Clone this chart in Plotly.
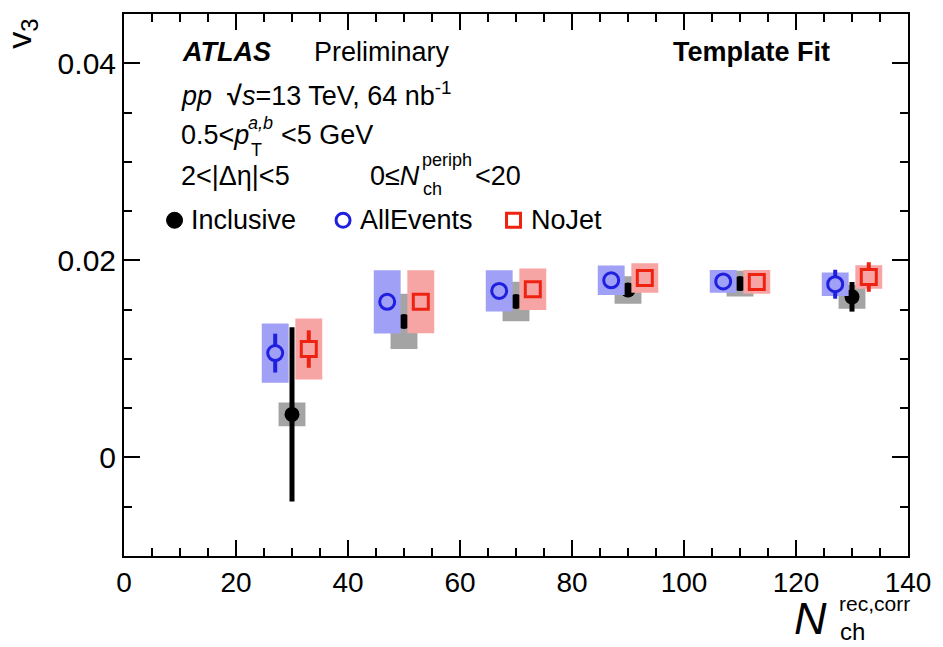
import plotly.graph_objects as go

# ---------------- data ----------------
x_incl = [30, 50, 70, 90, 110, 130]
x_all = [27, 47, 67, 87, 107, 127]
x_nojet = [33, 53, 73, 93, 113, 133]

v3_incl = [0.00437, 0.0138, 0.01582, 0.0170, 0.01764, 0.0163]
stat_incl = [0.00884, 0.0006, 0.0005, 0.0005, 0.0005, 0.0015]
syst_incl = [0.0012, 0.0028, 0.0020, 0.0014, 0.0013, 0.0012]

v3_all = [0.01059, 0.01579, 0.0169, 0.01798, 0.01786, 0.01758]
stat_all = [0.00197, 0.0005, 0.0005, 0.0004, 0.0004, 0.00147]
syst_all = [0.0030, 0.0032, 0.0021, 0.0015, 0.00115, 0.0012]

v3_nojet = [0.0110, 0.0158, 0.01707, 0.01821, 0.01781, 0.01831]
stat_nojet = [0.0019, 0.0005, 0.0005, 0.0004, 0.0004, 0.0015]
syst_nojet = [0.0031, 0.0032, 0.0021, 0.0015, 0.0012, 0.0012]

series_names = ["Inclusive", "AllEvents", "NoJet"]

# ---------------- style ----------------
FONT = "Liberation Sans"
BOX_HALF = 2.4
C_BLACK = "black"
C_BLUE = "#1f1fe0"
C_RED = "#ee2211"
C_GRAYBOX = "#a4a4a4"
C_BLUEBOX = "#a0a0f6"
C_REDBOX = "#f7a4a4"

W, H = 943, 647
ML, MR, MT, MB = 124, 28, 12, 91
PW = W - ML - MR
PH = H - MT - MB


def px(x):
    return (x - ML) / PW


def py(y):
    return (MT + PH - y) / PH


def box_path(xs, ys, ss, hw):
    bx, by = [], []
    for x, y, s in zip(xs, ys, ss):
        bx += [x - hw, x + hw, x + hw, x - hw, x - hw, None]
        by += [y - s, y - s, y + s, y + s, y - s, None]
    return bx, by


def box_trace(xs, ys, ss, color):
    bx, by = box_path(xs, ys, ss, BOX_HALF)
    return go.Scatter(x=bx, y=by, mode="lines", fill="toself", fillcolor=color,
                      line=dict(width=0, color=color), hoverinfo="skip",
                      showlegend=False)


fig = go.Figure()

# Inclusive
fig.add_trace(box_trace(x_incl, v3_incl, syst_incl, C_GRAYBOX))
fig.add_trace(go.Scatter(
    x=x_incl, y=v3_incl, mode="markers", name=series_names[0], showlegend=False,
    marker=dict(symbol="circle", size=15, color=C_BLACK),
    error_y=dict(type="data", array=stat_incl, color=C_BLACK, thickness=5, width=0)))

# AllEvents (marker interior painted with the box colour so the bar does not show inside)
fig.add_trace(box_trace(x_all, v3_all, syst_all, C_BLUEBOX))
fig.add_trace(go.Scatter(
    x=x_all, y=v3_all, mode="markers", name=series_names[1], showlegend=False,
    marker=dict(symbol="circle", size=15, color=C_BLUEBOX, line=dict(width=3, color=C_BLUE)),
    error_y=dict(type="data", array=stat_all, color=C_BLUE, thickness=4, width=0)))

# NoJet
fig.add_trace(box_trace(x_nojet, v3_nojet, syst_nojet, C_REDBOX))
fig.add_trace(go.Scatter(
    x=x_nojet, y=v3_nojet, mode="markers", name=series_names[2], showlegend=False,
    marker=dict(symbol="square", size=15, color=C_REDBOX, line=dict(width=3, color=C_RED)),
    error_y=dict(type="data", array=stat_nojet, color=C_RED, thickness=4, width=0)))

axis_common = dict(
    ticks="inside", ticklen=16, tickwidth=2, tickcolor="black",
    showline=True, linecolor="black", linewidth=2, mirror="ticks",
    showgrid=False, zeroline=False,
)

fig.update_xaxes(range=[0, 140], tick0=0, dtick=20,
                 tickfont=dict(family=FONT, size=28, color="black"),
                 minor=dict(dtick=5, ticklen=8, tickwidth=2, ticks="inside",
                            tickcolor="black", showgrid=False),
                 **axis_common)
fig.update_yaxes(range=[-0.01, 0.045], tick0=0, dtick=0.02,
                 tickfont=dict(family=FONT, size=30, color="black"),
                 minor=dict(dtick=0.005, ticklen=8, tickwidth=2, ticks="inside",
                            tickcolor="black", showgrid=False),
                 **axis_common)


def ann(text, x, y, size, xanchor="left", **kw):
    return dict(text=text, x=px(x), y=py(y), xref="paper", yref="paper",
                xanchor=xanchor, yanchor="middle", showarrow=False,
                font=dict(family=FONT, size=size, color="black"), **kw)


S = 27
SS = 18
annotations = [
    ann("<b><i>ATLAS</i></b>", 181, 50, S),
    ann("Preliminary", 314, 50, S),
    ann("<b>Template Fit</b>", 676, 50, S),
    ann("<i>pp</i>&nbsp;&nbsp;<b>√</b><i>s</i>=13 TeV, 64 nb<sup>-1</sup>", 179, 92, S),
    ann("0.5&lt;<i>p</i>", 179, 133, S),
    ann("<i>a,b</i>", 247, 121, SS),
    ann("T", 250, 149, SS),
    ann("&lt;5 GeV", 280, 133, S),
    ann("2&lt;|Δη|&lt;5", 179, 175, S),
    ann("0≤<i>N</i>", 370, 175, S),
    ann("periph", 423, 159, SS),
    ann("ch", 424, 188, SS),
    ann("&lt;20", 476, 175, S),
    ann(series_names[0], 190, 219, S),
    ann(series_names[1], 360, 219, S),
    ann(series_names[2], 533, 219, S),
    # axis titles
    ann("v<sub>3</sub>", 21, 32, 34, xanchor="center", textangle=-90),
    ann("<i>N</i>", 798, 619, 45),
    ann("rec,corr", 843, 604, 21),
    ann("ch", 844, 632, 24),
]

shapes = [
    dict(type="circle", xref="paper", yref="paper", xsizemode="pixel", ysizemode="pixel",
         xanchor=px(175), yanchor=py(219), x0=-8, x1=8, y0=-8, y1=8,
         fillcolor=C_BLACK, line=dict(color=C_BLACK, width=1)),
    dict(type="circle", xref="paper", yref="paper", xsizemode="pixel", ysizemode="pixel",
         xanchor=px(345), yanchor=py(219), x0=-7, x1=7, y0=-7, y1=7,
         line=dict(color=C_BLUE, width=3)),
    dict(type="rect", xref="paper", yref="paper", xsizemode="pixel", ysizemode="pixel",
         xanchor=px(517), yanchor=py(219), x0=-7, x1=7, y0=-7, y1=7,
         line=dict(color=C_RED, width=3)),
]

fig.update_layout(
    width=W, height=H, autosize=False,
    margin=dict(l=ML, r=MR, t=MT, b=MB, pad=0),
    plot_bgcolor="white", paper_bgcolor="white",
    showlegend=False,
    annotations=annotations, shapes=shapes,
    font=dict(family=FONT, color="black"),
)

fig.write_html("out.html")
